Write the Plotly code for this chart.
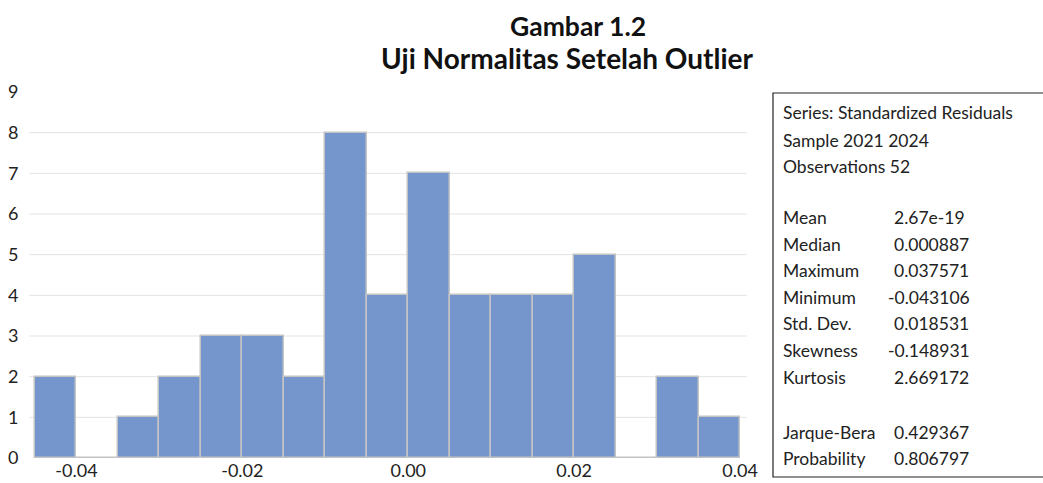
import plotly.graph_objects as go

# Histogram data (bin width 0.005)
bin_left_edges = [-0.045, -0.040, -0.035, -0.030, -0.025, -0.020, -0.015, -0.010,
                  -0.005, 0.000, 0.005, 0.010, 0.015, 0.020, 0.025, 0.030, 0.035]
counts = [2, 0, 1, 2, 3, 3, 2, 8, 4, 7, 4, 4, 4, 5, 0, 2, 1]
bin_width = 0.005

x_tick_vals = [-0.04, -0.02, 0.00, 0.02, 0.04]
x_tick_text = ["-0.04", "-0.02", "0.00", "0.02", "0.04"]
y_tick_vals = [0, 1, 2, 3, 4, 5, 6, 7, 8, 9]

stat_labels = ["Mean", "Median", "Maximum", "Minimum", "Std. Dev.", "Skewness", "Kurtosis"]
stat_values = ["2.67e-19", "0.000887", "0.037571", "-0.043106", "0.018531", "-0.148931", "2.669172"]
test_labels = ["Jarque-Bera", "Probability"]
test_values = ["0.429367", "0.806797"]
header_lines = ["Series: Standardized Residuals", "Sample 2021 2024", "Observations 52"]

centers = [e + bin_width / 2 for e in bin_left_edges]

FONT = "Lato, 'Open Sans', sans-serif"
L, R, T, B = 29, 747, 92, 458  # plot area in pixels
W, H = 1043, 483

def px_x(px):
    return (px - L) / (R - L)

def px_y(py):
    return (B - py) / (B - T)

fig = go.Figure()
fig.add_trace(go.Bar(
    x=centers, y=counts, width=bin_width,
    marker=dict(color="#7496CD", line=dict(color="#C4C4C4", width=1.5)),
    hoverinfo="x+y",
))

# gridlines 1..8
for v in y_tick_vals[1:-1]:
    fig.add_shape(type="line", xref="x domain", yref="y", x0=0, x1=1, y0=v, y1=v,
                  line=dict(color="#E3E3E3", width=1), layer="below")

fig.update_layout(
    width=W, height=H,
    margin=dict(l=L, r=W - R, t=T, b=H - B, autoexpand=False),
    paper_bgcolor="white", plot_bgcolor="white",
    showlegend=False,
    bargap=0,
    font=dict(family=FONT, color="#222222"),
    xaxis=dict(range=[-0.04572, 0.04084], tickvals=x_tick_vals, ticktext=x_tick_text,
               showgrid=False, zeroline=False, showline=False, automargin=False,
               ticks="", ticklabelstandoff=0,
               tickfont=dict(size=18, family=FONT, color="#222222")),
    yaxis=dict(range=[0, 9], tickvals=y_tick_vals, showgrid=False, zeroline=False,
               showline=False, automargin=False, ticks="outside", ticklen=6,
               tickcolor="rgba(0,0,0,0)",
               tickfont=dict(size=18, family=FONT, color="#222222")),
)

# Title
fig.add_annotation(text="<b>Gambar 1.2</b>", xref="paper", yref="paper",
                   x=px_x(578), y=px_y(26), xanchor="center", yanchor="middle",
                   showarrow=False, font=dict(size=26.5, family=FONT, color="#111111"))
fig.add_annotation(text="<b>Uji Normalitas Setelah Outlier</b>", xref="paper", yref="paper",
                   x=px_x(567), y=px_y(58), xanchor="center", yanchor="middle",
                   showarrow=False, font=dict(size=28, family=FONT, color="#111111"))

# Stats box
fig.add_shape(type="rect", xref="paper", yref="paper",
              x0=px_x(773), x1=px_x(1100), y0=px_y(477), y1=px_y(93),
              line=dict(color="#222222", width=1.2), fillcolor="rgba(0,0,0,0)")

TXT = dict(size=17.5, family=FONT, color="#222222")

line_y = [113, 140, 166]
for txt, yy in zip(header_lines, line_y):
    fig.add_annotation(text=txt, xref="paper", yref="paper", x=px_x(781), y=px_y(yy),
                       xanchor="left", yanchor="middle", showarrow=False, font=TXT)

stat_y = [217, 244, 270, 297, 323, 350, 377]
for lab, val, yy in zip(stat_labels, stat_values, stat_y):
    fig.add_annotation(text=lab, xref="paper", yref="paper", x=px_x(781), y=px_y(yy),
                       xanchor="left", yanchor="middle", showarrow=False, font=TXT)
    fig.add_annotation(text=val, xref="paper", yref="paper",
                       x=px_x(892 if not val.startswith("-") else 886), y=px_y(yy),
                       xanchor="left", yanchor="middle", showarrow=False, font=TXT)

test_y = [432, 458]
for lab, val, yy in zip(test_labels, test_values, test_y):
    fig.add_annotation(text=lab, xref="paper", yref="paper", x=px_x(781), y=px_y(yy),
                       xanchor="left", yanchor="middle", showarrow=False, font=TXT)
    fig.add_annotation(text=val, xref="paper", yref="paper", x=px_x(892), y=px_y(yy),
                       xanchor="left", yanchor="middle", showarrow=False, font=TXT)

fig.write_html("out.html", config={"displayModeBar": False},
               post_script="document.body.style.margin='0';document.body.style.padding='0';")
